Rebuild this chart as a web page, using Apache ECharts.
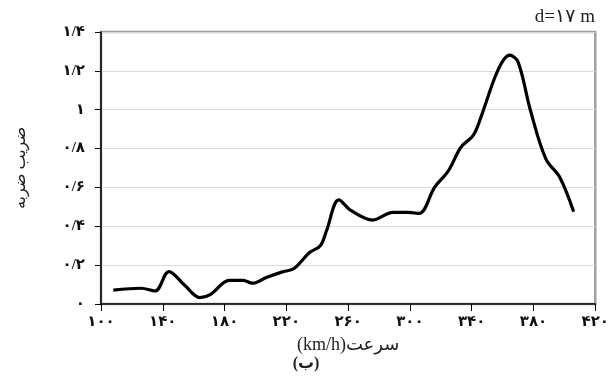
<!DOCTYPE html>
<html>
<head>
<meta charset="utf-8">
<script src="https://cdn.jsdelivr.net/npm/echarts@6/dist/echarts.min.js"></script>
<style>
  html, body { margin: 0; padding: 0; background: #fff; }
  #chart { width: 612px; height: 382px; }
</style>
</head>
<body>
<div id="chart"></div>
<script>
// Impact factor versus train speed (d = 17 m)
const speeds = [108, 126, 135, 144, 154, 164, 171, 183, 192, 198, 207, 217, 225, 235, 242, 246, 254, 262, 276, 289, 299, 306, 316, 325, 333, 341, 346, 357, 364.5, 370, 378, 388, 397, 406];
const impactFactor = [0.071, 0.081, 0.067, 0.167, 0.098, 0.033, 0.05, 0.122, 0.122, 0.107, 0.136, 0.164, 0.183, 0.265, 0.30, 0.377, 0.536, 0.48, 0.432, 0.472, 0.472, 0.466, 0.601, 0.687, 0.807, 0.868, 0.962, 1.204, 1.281, 1.246, 0.997, 0.747, 0.652, 0.475];

const xTickValues = [100, 140, 180, 220, 260, 300, 340, 380, 420];
const xTickLabels = ['۱۰۰', '۱۴۰', '۱۸۰', '۲۲۰', '۲۶۰', '۳۰۰', '۳۴۰', '۳۸۰', '۴۲۰'];
const yTickValues = [0, 0.2, 0.4, 0.6, 0.8, 1, 1.2, 1.4];
const yTickLabels = ['۰', '۰/۲', '۰/۴', '۰/۶', '۰/۸', '۱', '۱/۲', '۱/۴'];

const titleText = 'd=۱۷ m';
const xName = '(km/h)سرعت';
const yName = 'ضریب ضربه';
const captionText = '(ب)';

function lookup(values, labels, v) {
  for (let i = 0; i < values.length; i++) {
    if (Math.abs(values[i] - v) < 1e-6) return labels[i];
  }
  return '';
}

const series = speeds.map((s, i) => [s, impactFactor[i]]);
const fontFam = '"Liberation Serif", "DejaVu Sans", serif';

const chart = echarts.init(document.getElementById('chart'), null, { renderer: 'canvas' });
chart.setOption({
  animation: false,
  backgroundColor: '#ffffff',
  title: {
    text: titleText,
    right: 12,
    top: 3,
    textStyle: { fontFamily: fontFam, fontSize: 19, fontWeight: 'normal', color: '#222' }
  },
  grid: {
    left: 101, right: 14, top: 32, bottom: 78,
    show: true,
    borderColor: '#a0a0a0',
    borderWidth: 2.5,
    backgroundColor: 'transparent'
  },
  xAxis: {
    type: 'value',
    min: 100, max: 420, interval: 40,
    name: xName,
    nameLocation: 'middle',
    nameGap: 32,
    nameTextStyle: { fontFamily: fontFam, fontSize: 18, color: '#222' },
    axisLine: { show: true, lineStyle: { color: '#000', width: 1.5 } },
    axisTick: { show: true, inside: false, length: 7, lineStyle: { color: '#000', width: 1 } },
    axisLabel: {
      margin: 11,
      fontFamily: fontFam, fontSize: 15, fontWeight: 'bold', color: '#111',
      formatter: v => lookup(xTickValues, xTickLabels, v)
    },
    splitLine: { show: false }
  },
  yAxis: {
    type: 'value',
    min: 0, max: 1.4, interval: 0.2,
    name: yName,
    nameLocation: 'middle',
    nameRotate: 90,
    nameGap: 72,
    nameTextStyle: { fontFamily: fontFam, fontSize: 16, color: '#222' },
    axisLine: { show: true, lineStyle: { color: '#000', width: 1.5 } },
    axisTick: { show: true, inside: false, length: 6, lineStyle: { color: '#000', width: 1 } },
    axisLabel: {
      margin: 16,
      fontFamily: fontFam, fontSize: 15, fontWeight: 'bold', color: '#111',
      formatter: v => lookup(yTickValues, yTickLabels, v)
    },
    splitLine: { show: true, lineStyle: { color: '#d9d9d9', width: 1 } }
  },
  graphic: [{
    type: 'text',
    left: 'center',
    top: 356,
    style: { text: captionText, font: 'bold 16px ' + fontFam, fill: '#222' }
  }],
  series: [{
    type: 'line',
    data: series,
    smooth: 0.35,
    symbol: 'none',
    lineStyle: { color: '#000', width: 3.2 }
  }]
});
</script>
</body>
</html>
